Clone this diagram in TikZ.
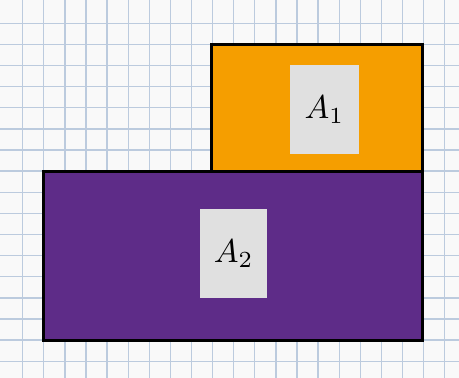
\documentclass[tikz,border=0pt]{standalone}
\begin{document}
\begin{tikzpicture}[x=1pt,y=-1pt,
  gridline/.style={draw=gridc,line width=1.3pt},
  region/.style={draw=black,line width=2.8pt,line join=miter},
  labelbox/.style={fill=boxgray,inner sep=0pt}]
\definecolor{bgc}{RGB}{249,249,249}
\definecolor{gridc}{RGB}{188,203,222}
\definecolor{orangec}{RGB}{245,158,0}
\definecolor{purplec}{RGB}{94,44,136}
\definecolor{boxgray}{RGB}{224,224,224}
\useasboundingbox (0,0) rectangle (459,378);
\fill[bgc] (0,0) rectangle (459,378);
\foreach \k in {0,...,20} {
  \draw[gridline] ({22.7+21.1*\k},0) -- ({22.7+21.1*\k},378);
}
\foreach \k in {0,...,16} {
  \draw[gridline] (0,{23.3+21.12*\k}) -- (459,{23.3+21.12*\k});
}
\path[region,fill=purplec] (43.4,171.4) rectangle (422.7,340.1);
\path[region,fill=orangec] (211.8,44.3) rectangle (422.7,171.4);
\node[labelbox,minimum width=69pt,minimum height=89pt] (a1) at (324.5,109.5) {\scalebox{3.3}{$A_1$}};
\node[labelbox,minimum width=67pt,minimum height=89pt] (a2) at (233.7,253.5) {\scalebox{3.3}{$A_2$}};
\end{tikzpicture}
\end{document}
